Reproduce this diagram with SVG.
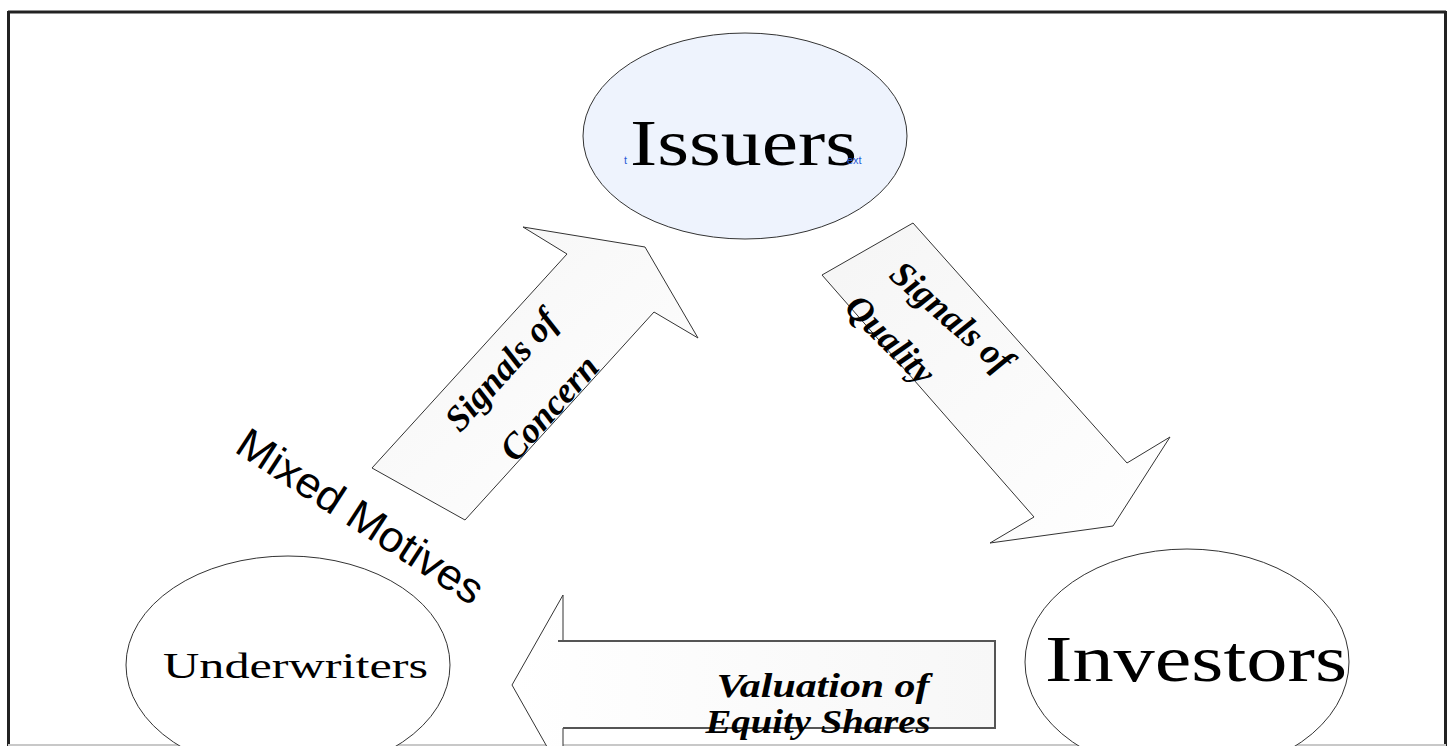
<svg xmlns="http://www.w3.org/2000/svg" width="1448" height="746" viewBox="0 0 1448 746">
<defs>
<linearGradient id="gArrow" x1="0" y1="0" x2="1" y2="1">
<stop offset="0" stop-color="#f5f5f5"/>
<stop offset="1" stop-color="#ffffff"/>
</linearGradient>
<linearGradient id="gVal" x1="0" y1="0" x2="1" y2="0">
<stop offset="0" stop-color="#ffffff"/>
<stop offset="1" stop-color="#f7f7f7"/>
</linearGradient>
</defs>
<style>
.node{stroke:#333;stroke-width:1;}
.arrow{stroke:#333;stroke-width:1;fill:url(#gArrow);}
.serif{font-family:"Liberation Serif","Times New Roman",serif;fill:#000;}
.script{font-family:"Liberation Serif","DejaVu Serif",serif;font-style:italic;font-weight:bold;fill:#000;}
.sans{font-family:"Liberation Sans",Arial,sans-serif;fill:#000;}
.tiny{font-family:"Liberation Sans",Arial,sans-serif;font-size:11px;fill:#2a5bd7;}
</style>
<rect x="0" y="0" width="1448" height="746" fill="#ffffff"/>
<g id="frame">
<line x1="8" y1="12" x2="1446" y2="12" stroke="#222" stroke-width="3"/>
<line x1="8.5" y1="11" x2="8.5" y2="746" stroke="#222" stroke-width="3"/>
<line x1="1445.5" y1="11" x2="1445.5" y2="746" stroke="#222" stroke-width="3"/>
<line x1="8" y1="745" x2="1446" y2="745" stroke="#c8c8c8" stroke-width="2"/>
</g>
<g id="connectors">
<g id="arrow-concern">
<polygon class="arrow" points="372,468 465,520 654,312 698,338 645,247 523,227 567,254"/>
<text class="script" font-size="36" transform="translate(510,378) rotate(-48)" text-anchor="middle">Signals of</text>
<text class="script" font-size="36" transform="translate(558,416) rotate(-48)" text-anchor="middle">Concern</text>
</g>
<g id="arrow-quality">
<polygon class="arrow" points="822,275 913,223 1127,463 1170,437 1113,526 990,543 1034,517"/>
<text class="script" font-size="36" transform="translate(944,326) rotate(41)" text-anchor="middle">Signals of</text>
<text class="script" font-size="36" transform="translate(882,348) rotate(45)" text-anchor="middle">Quality</text>
</g>
<g id="arrow-valuation">
<polygon points="995,641 563,641 563,595 512,685 563,775 563,728 995,728" fill="url(#gVal)" stroke="#333" stroke-width="1"/>
<polyline points="558,641 995,641 995,728 563,728" fill="none" stroke="#555" stroke-width="2"/>
<text class="script" font-size="34" x="823" y="697" text-anchor="middle" textLength="213" lengthAdjust="spacingAndGlyphs">Valuation of</text>
<text class="script" font-size="34" x="818" y="733" text-anchor="middle" textLength="225" lengthAdjust="spacingAndGlyphs">Equity Shares</text>
</g>
<text id="label-mixed" class="sans" font-size="43" transform="translate(233,451) rotate(33)" textLength="285" lengthAdjust="spacingAndGlyphs">Mixed Motives</text>
</g>
<g id="node-issuers">
<ellipse class="node" cx="745" cy="136" rx="162" ry="103" fill="#eef3fd"/>
<text class="serif" font-size="66" x="630" y="165" textLength="227" lengthAdjust="spacingAndGlyphs">Issuers</text>
<text class="tiny" x="624" y="164">t</text>
<text class="tiny" x="847" y="164">ext</text>
</g>
<g id="node-investors">
<ellipse class="node" cx="1187" cy="662" rx="162" ry="113" fill="#ffffff"/>
<text class="serif" font-size="65" x="1045" y="681" textLength="302" lengthAdjust="spacingAndGlyphs">Investors</text>
</g>
<g id="node-underwriters">
<ellipse class="node" cx="288" cy="665" rx="162" ry="109" fill="#ffffff"/>
<text class="serif" font-size="36" x="163" y="678" textLength="265" lengthAdjust="spacingAndGlyphs">Underwriters</text>
</g>
</svg>
